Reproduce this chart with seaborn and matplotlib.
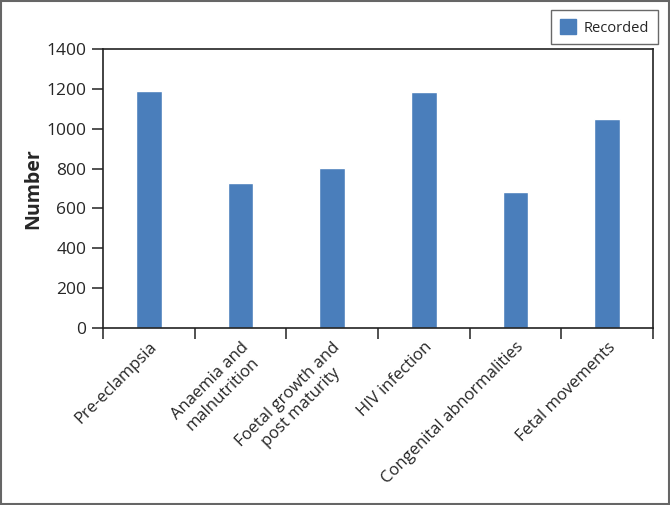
import pandas as pd
import seaborn as sns
import matplotlib.pyplot as plt
from matplotlib.patches import Rectangle, Patch

categories = ["Pre-eclampsia", "Anaemia and\nmalnutrition", "Foetal growth and\npost maturity",
              "HIV infection", "Congenital abnormalities", "Fetal movements"]
recorded = [1190, 730, 805, 1185, 680, 1050]

df = pd.DataFrame({"category": categories, "Recorded": recorded})

sns.set_style("white")
plt.rcParams['font.family'] = ['Open Sans', 'DejaVu Sans']

fig = plt.figure(figsize=(6.7, 5.05), dpi=100)
ax = fig.add_axes([103 / 670, 1 - 328 / 505, 550 / 670, 279 / 505])

bar_color = '#4a7ebb'
sns.barplot(data=df, x="category", y="Recorded", color=bar_color, width=0.28,
            saturation=1, ax=ax)

ax.set_ylim(0, 1400)
ax.set_yticks(range(0, 1401, 200))
ax.set_xlim(-0.5, len(categories) - 0.5)

# category boundary ticks, labels at centres
ax.set_xticks([i - 0.5 for i in range(len(categories) + 1)])
ax.set_xticklabels([])
ax.set_xticks(range(len(categories)), minor=True)
ax.set_xticklabels(categories, minor=True, rotation=45, ha='right',
                   rotation_mode='anchor', multialignment='center', fontsize=12)
ax.tick_params(axis='x', which='minor', length=0, pad=8)
ax.tick_params(axis='x', which='major', length=8, width=1.2, color='#333333', direction='out', bottom=True)
ax.tick_params(axis='y', length=8, width=1.2, color='#333333', direction='out', left=True,
               labelsize=12.5, pad=4)

for s in ax.spines.values():
    s.set_color('#222222')
    s.set_linewidth(1.2)

ax.set_xlabel("")
ax.set_ylabel("Number", fontsize=14, fontweight='bold', labelpad=2)

handle = Patch(facecolor=bar_color, edgecolor=bar_color)
fig.legend([handle], ["Recorded"], loc='upper right', bbox_to_anchor=(662 / 670, 1 - 6 / 505),
           fontsize=10.5, frameon=True, fancybox=False, edgecolor='#444444',
           handlelength=1.1, handleheight=1.2, handletextpad=0.5, borderpad=0.6,
           borderaxespad=0.3)

fig.patches.append(Rectangle((0.002, 0.002), 0.996, 0.996, transform=fig.transFigure,
                             fill=False, edgecolor='#666666', linewidth=1.5))

fig.savefig("out.png", dpi=100)
